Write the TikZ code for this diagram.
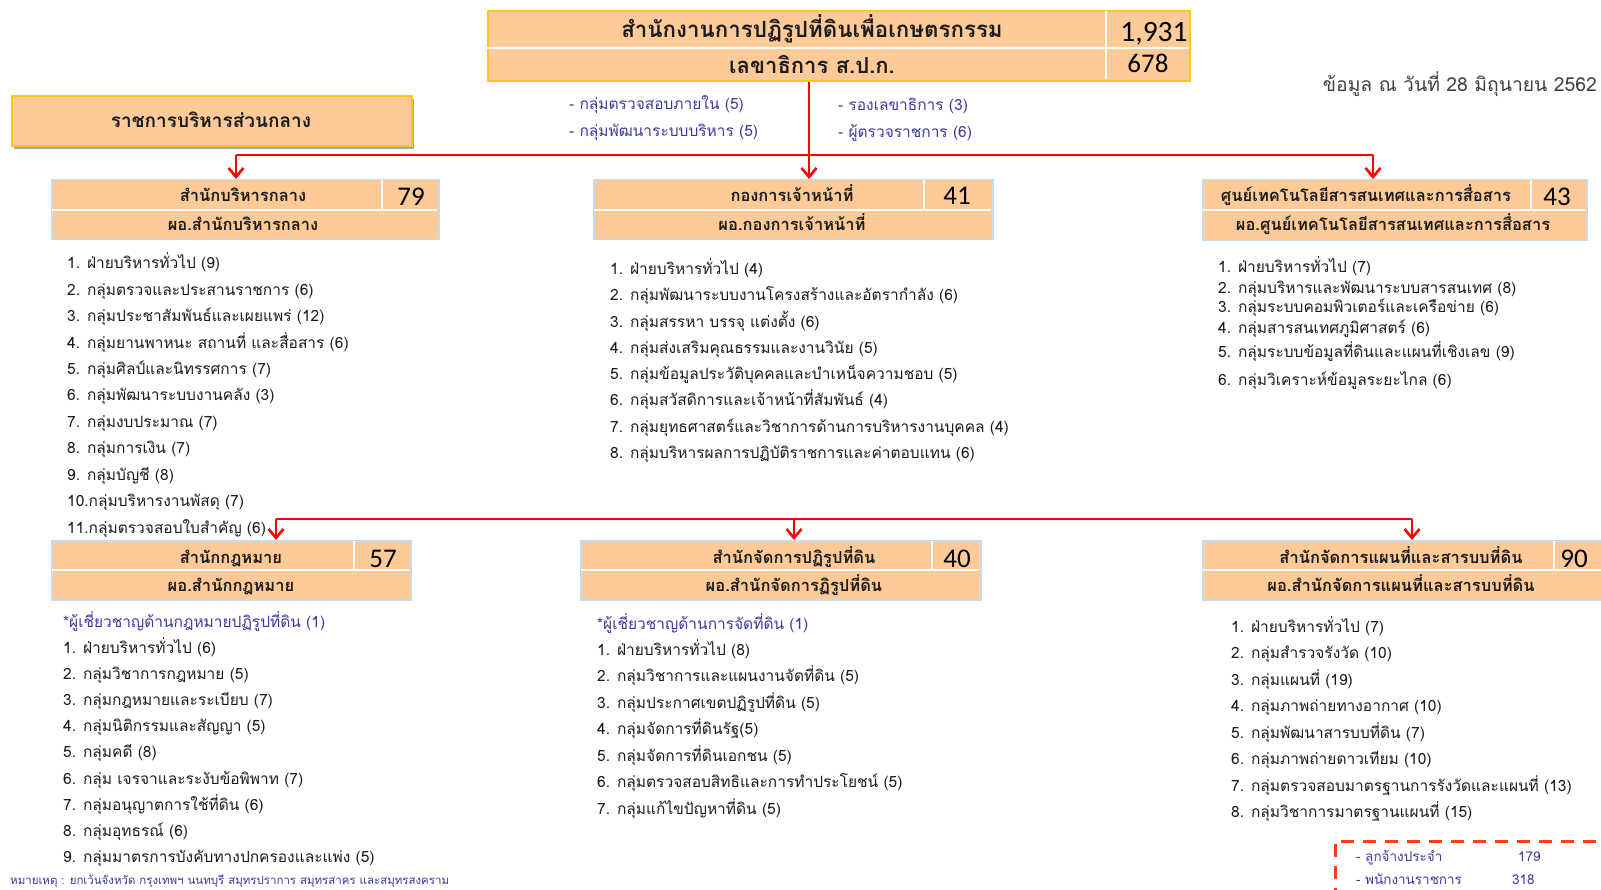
\documentclass[tikz,border=0pt]{standalone}
\usepackage{fontspec}
\setmainfont[Script=Thai]{Loma}
\newfontfamily\numfont{Carlito}
\usetikzlibrary{arrows.meta,calc}
\definecolor{boxfill}{HTML}{FECB98}
\definecolor{goldline}{HTML}{FFC819}
\definecolor{lblue}{HTML}{C5DCF0}
\definecolor{navy}{HTML}{3B3B9C}
\definecolor{txt}{HTML}{1C1C1C}
\definecolor{dashred}{HTML}{FF4010}
\definecolor{shadowgray}{HTML}{A6A6A6}
\begin{document}
\begin{tikzpicture}[x=1pt,y=-1pt,
  orgbox/.style={draw=lblue, line width=1.5pt, fill=boxfill, rectangle, inner sep=0pt, anchor=north west},
  topbox/.style={draw=goldline, line width=2pt, fill=boxfill, rectangle, inner sep=0pt, anchor=north west},
  divider/.style={white, line width=1.5pt},
  hdr/.style={anchor=base, inner sep=0pt, text=txt, font=\fontsize{16.5}{18}\selectfont\bfseries},
  bignum/.style={anchor=base, inner sep=0pt, text=black, font=\numfont\fontsize{27}{30}\selectfont},
  item/.style={anchor=base west, inner sep=0pt, text=txt, font=\fontsize{15.5}{18}\selectfont},
  bitem/.style={anchor=base west, inner sep=0pt, text=navy, font=\fontsize{15.5}{18}\selectfont},
  feed/.style={red, line width=2.6pt},
  drop/.style={red, line width=2.6pt, -{Straight Barb[length=9pt,width=15pt,line width=2.6pt]}}
]
\useasboundingbox (0,0) rectangle (1601,890);

% ---------- top box
\node[topbox, minimum width=702, minimum height=70] (top) at (487,10) {};
\draw[divider] (487,48) -- (1189,48);
\draw[divider] (1106,11) -- (1106,79);
\node[hdr, font=\fontsize{22.3}{24}\selectfont\bfseries] (toptitle) at (812,38) {สำนักงานการปฏิรูปที่ดินเพื่อเกษตรกรรม};
\node[bignum, font=\numfont\fontsize{29.5}{32}\selectfont] (topnum) at (1154,42) {1,931};
\node[hdr, font=\fontsize{22}{24}\selectfont\bfseries] (topsub) at (812,74) {เลขาธิการ ส.ป.ก.};
\node[bignum] (topnum2) at (1148,73) {678};

% blue sub-items under the top box
\node[bitem] (s1) at (569,110) {- กลุ่มตรวจสอบภายใน (5)};
\node[bitem] (s2) at (569,137) {- กลุ่มพัฒนาระบบบริหาร (5)};
\node[bitem] (s3) at (838,111) {- รองเลขาธิการ (3)};
\node[bitem] (s4) at (838,138) {- ผู้ตรวจราชการ (6)};

% date
\node[anchor=base east, inner sep=0pt, text=black!75, font=\fontsize{19.3}{22}\selectfont] (date) at (1597,92) {ข้อมูล ณ วันที่ 28 มิถุนายน 2562};

% ---------- central administration label box
\fill[shadowgray] (14,99) rectangle (414,149);
\node[topbox, minimum width=400, minimum height=50] (central) at (11,95) {};
\node[hdr, font=\fontsize{19}{21}\selectfont\bfseries] (centralt) at (211,128) {ราชการบริหารส่วนกลาง};

% ---------- row 1 boxes
\node[orgbox, minimum width=387, minimum height=60] (boxA) at (51,179) {};
\draw[divider] (52,210) -- (437,210);
\draw[divider] (382,180) -- (382,209);
\node[hdr] (boxAt) at (243,202) {สำนักบริหารกลาง};
\node[bignum] (boxAn) at (411,206) {79};
\node[hdr] (boxAs) at (243,231) {ผอ.สำนักบริหารกลาง};

\node[orgbox, minimum width=399, minimum height=60] (boxB) at (593,179) {};
\draw[divider] (594,210) -- (991,210);
\draw[divider] (924,180) -- (924,209);
\node[hdr] (boxBt) at (792,202) {กองการเจ้าหน้าที่};
\node[bignum] (boxBn) at (957,205) {41};
\node[hdr] (boxBs) at (792,231) {ผอ.กองการเจ้าหน้าที่};

\node[orgbox, minimum width=384, minimum height=61] (boxC) at (1202,179) {};
\draw[divider] (1203,210) -- (1585,210);
\draw[divider] (1531,180) -- (1531,209);
\node[hdr] (boxCt) at (1366,202) {ศูนย์เทคโนโลยีสารสนเทศและการสื่อสาร};
\node[bignum] (boxCn) at (1557,206) {43};
\node[hdr] (boxCs) at (1393,231) {ผอ.ศูนย์เทคโนโลยีสารสนเทศและการสื่อสาร};

% ---------- row 1 connectors
\coordinate (hub1) at (809,155);
\coordinate (j1a) at (236,155);
\coordinate (j1c) at (1373,155);
\draw[feed] (top.south -| hub1) -- (hub1);
\draw[feed] (j1a) -- (j1c);
\draw[drop] (j1a) -- (j1a |- boxA.north);
\draw[drop] (hub1) -- (hub1 |- boxB.north);
\draw[drop] (j1c) -- (j1c |- boxC.north);

% ---------- row 1 lists
\foreach \t [count=\i] in {1. ฝ่ายบริหารทั่วไป (9), 2. กลุ่มตรวจและประสานราชการ (6), 3. กลุ่มประชาสัมพันธ์และเผยแพร่ (12), 4. กลุ่มยานพาหนะ สถานที่ และสื่อสาร (6), 5. กลุ่มศิลป์และนิทรรศการ (7), 6. กลุ่มพัฒนาระบบงานคลัง (3), 7. กลุ่มงบประมาณ (7), 8. กลุ่มการเงิน (7), 9. กลุ่มบัญชี (8), 10.กลุ่มบริหารงานพัสดุ (7), 11.กลุ่มตรวจสอบใบสำคัญ (6)}
  \node[item, name=la\i] at (67,{269+26.4*(\i-1)}) {\t};

\foreach \t [count=\i] in {1. ฝ่ายบริหารทั่วไป (4), 2. กลุ่มพัฒนาระบบงานโครงสร้างและอัตรากำลัง (6), 3. กลุ่มสรรหา บรรจุ แต่งตั้ง (6), 4. กลุ่มส่งเสริมคุณธรรมและงานวินัย (5), 5. กลุ่มข้อมูลประวัติบุคคลและบำเหน็จความชอบ (5), 6. กลุ่มสวัสดิการและเจ้าหน้าที่สัมพันธ์ (4), 7. กลุ่มยุทธศาสตร์และวิชาการด้านการบริหารงานบุคคล (4), 8. กลุ่มบริหารผลการปฏิบัติราชการและค่าตอบแทน (6)}
  \node[item, name=lb\i] at (610,{274.5+26.3*(\i-1)}) {\t};

\foreach \t/\yy [count=\i] in {1. ฝ่ายบริหารทั่วไป (7)/273, 2. กลุ่มบริหารและพัฒนาระบบสารสนเทศ (8)/294, 3. กลุ่มระบบคอมพิวเตอร์และเครือข่าย (6)/313, 4. กลุ่มสารสนเทศภูมิศาสตร์ (6)/334, 5. กลุ่มระบบข้อมูลที่ดินและแผนที่เชิงเลข (9)/358, 6. กลุ่มวิเคราะห์ข้อมูลระยะไกล (6)/385}
  \node[item, name=lc\i] at (1218,\yy) {\t};

% ---------- row 2 connectors
\coordinate (j2a) at (276,519);
\coordinate (j2b) at (794,519);
\coordinate (j2c) at (1412,519);
\draw[feed] (j2a) -- (j2c);

% ---------- row 2 boxes
\node[orgbox, minimum width=359, minimum height=59] (boxD) at (51,540) {};
\draw[divider] (52,570) -- (409,570);
\draw[divider] (354,541) -- (354,569);
\node[hdr] (boxDt) at (231,563) {สำนักกฎหมาย};
\node[bignum] (boxDn) at (383,567) {57};
\node[hdr] (boxDs) at (231,591) {ผอ.สำนักกฎหมาย};

\node[orgbox, minimum width=400, minimum height=59] (boxE) at (580,540) {};
\draw[divider] (581,570) -- (979,570);
\draw[divider] (932,541) -- (932,569);
\node[hdr] (boxEt) at (794,563) {สำนักจัดการปฏิรูปที่ดิน};
\node[bignum] (boxEn) at (957,567) {40};
\node[hdr] (boxEs) at (794,591) {ผอ.สำนักจัดการฏิรูปที่ดิน};

\node[orgbox, minimum width=404, minimum height=59] (boxF) at (1202,540) {};
\draw[divider] (1203,570) -- (1605,570);
\draw[divider] (1554,541) -- (1554,569);
\node[hdr] (boxFt) at (1401,563) {สำนักจัดการแผนที่และสารบบที่ดิน};
\node[bignum] (boxFn) at (1574,567) {90};
\node[hdr] (boxFs) at (1401,591) {ผอ.สำนักจัดการแผนที่และสารบบที่ดิน};

\draw[drop] (j2a) -- (j2a |- boxD.north);
\draw[drop] (j2b) -- (j2b |- boxE.north);
\draw[drop] (j2c) -- (j2c |- boxF.north);

% ---------- row 2 lists
\node[bitem] (ldx) at (63,627) {*ผู้เชี่ยวชาญด้านกฎหมายปฏิรูปที่ดิน (1)};
\foreach \t [count=\i] in {1. ฝ่ายบริหารทั่วไป (6), 2. กลุ่มวิชาการกฎหมาย (5), 3. กลุ่มกฎหมายและระเบียบ (7), 4. กลุ่มนิติกรรมและสัญญา (5), 5. กลุ่มคดี (8), 6. กลุ่ม เจรจาและระงับข้อพิพาท (7), 7. กลุ่มอนุญาตการใช้ที่ดิน (6), 8. กลุ่มอุทธรณ์ (6), 9. กลุ่มมาตรการบังคับทางปกครองและแพ่ง (5)}
  \node[item, name=ld\i] at (63,{653+26.2*(\i-1)}) {\t};

\node[bitem] (lex) at (597,629) {*ผู้เชี่ยวชาญด้านการจัดที่ดิน (1)};
\foreach \t [count=\i] in {1. ฝ่ายบริหารทั่วไป (8), 2. กลุ่มวิชาการและแผนงานจัดที่ดิน (5), 3. กลุ่มประกาศเขตปฏิรูปที่ดิน (5), 4. กลุ่มจัดการที่ดินรัฐ(5), 5. กลุ่มจัดการที่ดินเอกชน (5), 6. กลุ่มตรวจสอบสิทธิและการทำประโยชน์ (5), 7. กลุ่มแก้ไขปัญหาที่ดิน (5)}
  \node[item, name=le\i] at (597,{655+26.5*(\i-1)}) {\t};

\foreach \t [count=\i] in {1. ฝ่ายบริหารทั่วไป (7), 2. กลุ่มสำรวจรังวัด (10), 3. กลุ่มแผนที่ (19), 4. กลุ่มภาพถ่ายทางอากาศ (10), 5. กลุ่มพัฒนาสารบบที่ดิน (7), 6. กลุ่มภาพถ่ายดาวเทียม (10), 7. กลุ่มตรวจสอบมาตรฐานการรังวัดและแผนที่ (13), 8. กลุ่มวิชาการมาตรฐานแผนที่ (15)}
  \node[item, name=lf\i] at (1231,{632+26.5*(\i-1)}) {\t};

% ---------- dashed staff box (cut by the page edge)
\draw[dashred, line width=3pt, dash pattern=on 13pt off 9pt] (1640,841) -- (1335,841) -- (1335,900);
\node[bitem, font=\fontsize{13.5}{15}\selectfont] (st1) at (1356,861) {- ลูกจ้างประจำ};
\node[bitem, font=\fontsize{13.5}{15}\selectfont] (st1n) at (1518,861) {179};
\node[bitem, font=\fontsize{13.5}{15}\selectfont] (st2) at (1356,884) {- พนักงานราชการ};
\node[bitem, font=\fontsize{13.5}{15}\selectfont] (st2n) at (1512,884) {318};

% ---------- note
\node[bitem, font=\fontsize{11.5}{13}\selectfont] (note) at (10,884) {หมายเหตุ : ยกเว้นจังหวัด กรุงเทพฯ นนทบุรี สมุทรปราการ สมุทรสาคร และสมุทรสงคราม};
\end{tikzpicture}
\end{document}
